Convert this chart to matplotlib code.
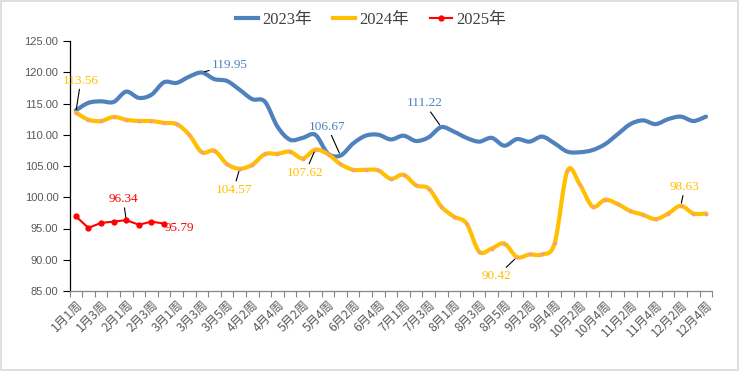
import matplotlib
matplotlib.use("Agg")
import matplotlib.pyplot as plt
import numpy as np
from matplotlib.path import Path
from matplotlib.patches import PathPatch, Rectangle
from matplotlib.lines import Line2D

weeks = ['1月1周', '1月2周', '1月3周', '1月4周', '2月1周', '2月2周', '2月3周', '2月4周',
         '3月1周', '3月2周', '3月3周', '3月4周', '3月5周', '4月1周', '4月2周', '4月3周',
         '4月4周', '5月1周', '5月2周', '5月3周', '5月4周', '6月1周', '6月2周', '6月3周',
         '6月4周', '6月5周', '7月1周', '7月2周', '7月3周', '7月4周', '8月1周', '8月2周',
         '8月3周', '8月4周', '8月5周', '9月1周', '9月2周', '9月3周', '9月4周', '10月1周',
         '10月2周', '10月3周', '10月4周', '11月1周', '11月2周', '11月3周', '11月4周',
         '12月1周', '12月2周', '12月3周', '12月4周']

v2023 = [113.9, 115.1, 115.35, 115.25, 116.9, 115.9, 116.4, 118.4, 118.3, 119.3,
         119.95, 118.9, 118.6, 117.2, 115.7, 115.3, 111.3, 109.2, 109.5, 110.0,
         107.0, 106.67, 108.6, 109.85, 110.0, 109.25, 109.85, 109.0, 109.6, 111.22,
         110.5, 109.5, 108.9, 109.5, 108.25, 109.3, 108.9, 109.7, 108.6, 107.3,
         107.2, 107.55, 108.5, 110.1, 111.7, 112.3, 111.7, 112.5, 112.9, 112.2, 112.9]

v2024 = [113.56, 112.4, 112.2, 112.85, 112.4, 112.2, 112.2, 111.9, 111.7, 110.0,
         107.2, 107.45, 105.3, 104.57, 105.2, 106.9, 106.95, 107.3, 106.2, 107.62,
         106.9, 105.3, 104.4, 104.4, 104.3, 102.95, 103.6, 101.9, 101.4, 98.5,
         96.9, 95.8, 91.3, 91.8, 92.6, 90.42, 90.85, 90.85, 92.7, 104.2,
         102.0, 98.5, 99.6, 98.9, 97.8, 97.2, 96.5, 97.4, 98.63, 97.4, 97.4]

v2025 = [96.95, 95.1, 95.9, 96.1, 96.34, 95.6, 96.1, 95.79]

series_names = ['2023年', '2024年', '2025年']
c_blue, c_yellow, c_red = '#4F81BD', '#FFC000', '#FF0000'

# labelled points: (series values, index, colour, text offset in pixels, leader?)
labels = [
    (v2023, 10, c_blue, (28, 8), True),
    (v2023, 21, c_blue, (-13, 29), True),
    (v2023, 29, c_blue, (-17, 24), True),
    (v2024, 0, c_yellow, (5, 32), True),
    (v2024, 13, c_yellow, (-6, -21), True),
    (v2024, 19, c_yellow, (-10, -23), True),
    (v2024, 35, c_yellow, (-20, -19), True),
    (v2024, 48, c_yellow, (4, 19), True),
    (v2025, 4, c_red, (-3, 21), True),
    (v2025, 7, c_red, (15, -4), False),
]


def smooth_path(xs, ys):
    # Excel-like smoothed line: Catmull-Rom converted to cubic Bezier segments
    pts = np.column_stack([xs, ys]).astype(float)
    n = len(pts)
    verts = [pts[0]]
    codes = [Path.MOVETO]
    for i in range(n - 1):
        p0 = pts[i - 1] if i > 0 else pts[i]
        p1, p2 = pts[i], pts[i + 1]
        p3 = pts[i + 2] if i + 2 < n else pts[i + 1]
        verts += [p1 + (p2 - p0) / 6, p2 - (p3 - p1) / 6, p2]
        codes += [Path.CURVE4] * 3
    return Path(verts, codes)


fig = plt.figure(figsize=(7.42, 3.73), dpi=100)
ax = fig.add_axes([69.5 / 742, 1 - 291 / 373, (712.3 - 69.5) / 742, 250 / 373])

x = np.arange(len(weeks))
ax.add_patch(PathPatch(smooth_path(x, v2023), fill=False, edgecolor=c_blue, lw=3.0,
                       capstyle='round', joinstyle='round', zorder=3))
ax.add_patch(PathPatch(smooth_path(x, v2024), fill=False, edgecolor=c_yellow, lw=3.0,
                       capstyle='round', joinstyle='round', zorder=3))
ax.plot(x, v2024, ls='none', marker='o', ms=1.8, color='#F7A07A', zorder=4)
x25 = np.arange(len(v2025))
ax.plot(x25, v2025, color=c_red, lw=1.5, marker='o', ms=3.5, zorder=5)

for vals, i, col, (dx, dy), leader in labels:
    ap = dict(arrowstyle='-', color='black', lw=0.8, shrinkA=0, shrinkB=2) if leader else None
    ax.annotate(f'{vals[i]:.2f}', xy=(i, vals[i]), xytext=(dx, dy),
                textcoords='offset pixels', ha='center', va='center', color=col,
                fontsize=9.5, family='Liberation Serif', arrowprops=ap, zorder=6)

ax.set_xlim(-0.5, len(weeks) - 0.5)
ax.set_ylim(85, 125)
ax.set_yticks(np.arange(85, 126, 5))
ax.set_yticklabels([f'{t:.2f}' for t in np.arange(85, 126, 5)])
ax.tick_params(axis='y', direction='out', length=5, width=0.8, color='black',
               labelcolor='#595959', labelsize=8, pad=3)
for lab in ax.get_yticklabels():
    lab.set_family('Liberation Sans')

ax.set_xticks(np.arange(-0.5, len(weeks), 1))
ax.set_xticklabels([])
ax.tick_params(axis='x', which='major', direction='out', length=4, width=0.8, color='#868686')
ax.set_xticks(x[::2], minor=True)
ax.set_xticklabels(weeks[::2], minor=True, rotation=45, ha='right', va='top',
                   rotation_mode='anchor', color='#595959', fontsize=8.8,
                   family=['Noto Sans CJK SC', 'DejaVu Sans'])
ax.tick_params(axis='x', which='minor', length=0, pad=5)

for s in ['top', 'right']:
    ax.spines[s].set_visible(False)
ax.spines['left'].set_color('black')
ax.spines['left'].set_linewidth(0.9)
ax.spines['bottom'].set_color('#868686')
ax.spines['bottom'].set_linewidth(0.9)

handles = [Line2D([], [], color=c_blue, lw=3),
           Line2D([], [], color=c_yellow, lw=3),
           Line2D([], [], color=c_red, lw=1.5, marker='o', ms=3.5)]
fig.legend(handles, series_names, loc='center', bbox_to_anchor=(0.5, 1 - 20 / 373), ncol=3,
           frameon=False, handlelength=1.3, handletextpad=0.25, columnspacing=1.3,
           prop={'family': ['Liberation Serif', 'Noto Sans CJK SC'], 'size': 12}, labelcolor='#404040')

fig.patches.append(Rectangle((1 / 742, 3 / 373), 737 / 742, 369 / 373, transform=fig.transFigure,
                             fill=False, edgecolor='#D9D9D9', lw=1.2))

fig.savefig('out.png', dpi=100, facecolor='white')
